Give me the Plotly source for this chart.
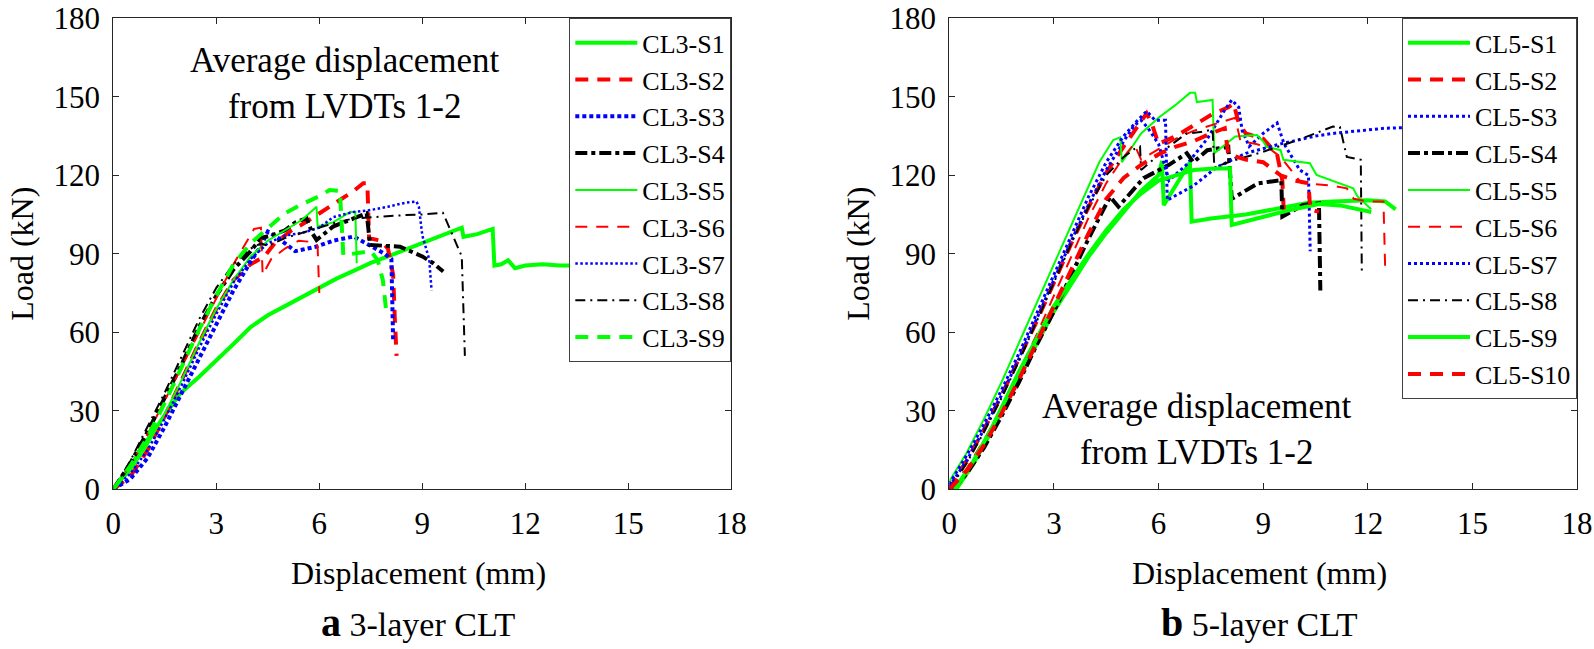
import plotly.graph_objects as go

# ---------------- Panel a: 3-layer CLT (displacement mm, load kN) ----------------
CL3_S1_X = [0, 0.5, 1, 1.5, 1.94, 2.5, 3, 3.5, 4, 4.5, 5, 5.5, 6, 6.5, 7, 7.5, 8, 8.5, 9, 9.5, 10, 10.15, 10.2, 10.6, 11.05, 11.1, 11.3, 11.5, 11.7, 12, 12.5, 13, 14]
CL3_S1_Y = [0, 9, 19, 28, 36.5, 43, 49, 55.5, 62, 66.5, 70, 73.5, 77, 80.5, 83.5, 86.5, 89, 91.5, 94, 96.5, 99, 100, 96.5, 97.5, 99.5, 85.5, 86, 87.5, 84.5, 85.5, 86, 85.5, 85.5]
CL3_S2_X = [0, 0.5, 1, 1.5, 2, 2.5, 3, 3.5, 4, 4.4, 4.7, 5.2, 5.6, 6, 6.6, 7, 7.28, 7.4, 7.45, 7.8, 8.0, 8.15, 8.2, 8.25]
CL3_S2_Y = [0, 5, 15, 28, 42, 56, 69, 80, 86, 89, 94, 99, 102, 105.5, 110.6, 114, 117, 117, 96, 95, 92, 82, 65, 51]
CL3_S3_X = [0, 0.5, 1, 1.5, 2, 2.5, 3, 3.5, 4, 4.3, 4.5, 4.8, 5.3, 5.9, 6.4, 7, 7.5, 7.9, 8.1, 8.15]
CL3_S3_Y = [0, 4, 12, 24, 37, 50, 63, 76, 87, 93, 98.5, 96, 91, 92.7, 95, 96.6, 93, 90, 88, 57]
CL3_S4_X = [0, 0.5, 1, 1.5, 2, 2.5, 3, 3.5, 4, 4.3, 4.6, 5.0, 5.3, 5.63, 5.8, 5.92, 6.4, 7, 7.38, 7.48, 8, 8.35, 9, 9.32, 9.61]
CL3_S4_Y = [0, 10, 22, 35, 48, 62, 74, 84, 91, 96, 97, 99, 102, 103.6, 97.8, 95.3, 100.4, 103.5, 105.5, 93.4, 93, 92.7, 89, 86.4, 83.2]
CL3_S5_X = [0, 0.5, 1, 1.5, 2, 2.5, 3, 3.5, 4, 4.5, 5, 5.5, 5.92, 5.95, 6.4, 6.9, 7.05, 7.09]
CL3_S5_Y = [0, 7, 17, 29, 42, 56, 69, 80, 89, 95, 99, 103, 108, 100.4, 102, 106, 106, 86.4]
CL3_S6_X = [0, 0.5, 1, 1.5, 2, 2.5, 3, 3.5, 3.9, 4.1, 4.3, 4.35, 4.6, 5, 5.4, 5.8, 5.95, 6.0]
CL3_S6_Y = [0, 9, 21, 34, 47, 60, 73, 86, 95, 99.5, 100, 82, 88, 92, 95, 94.5, 93, 75]
CL3_S7_X = [0, 0.5, 1, 1.5, 2, 2.5, 3, 3.5, 4, 4.5, 5, 5.5, 6, 6.4, 7, 7.4, 8, 8.5, 8.83, 8.9, 9.0, 9.2, 9.27]
CL3_S7_Y = [0, 6, 15, 27, 40, 54, 67, 79, 88, 94, 97, 98, 100, 104, 106, 106.5, 108, 109.5, 110, 108, 97, 88, 76]
CL3_S8_X = [0, 0.5, 1, 1.5, 2, 2.5, 3, 3.5, 4, 4.3, 4.5, 5, 5.5, 6, 6.5, 7, 7.5, 8, 8.5, 9, 9.3, 9.6, 10.15, 10.2, 10.24]
CL3_S8_Y = [0, 11, 24, 37, 51, 65, 77, 86, 92, 94, 93, 96, 98, 100, 102, 103.5, 104, 104.3, 104.8, 105, 105.3, 105.7, 89, 70, 51]
CL3_S9_X = [0, 0.5, 1, 1.5, 2, 2.5, 3, 3.5, 4, 4.5, 5, 5.5, 6, 6.3, 6.6, 6.7, 7.5, 7.7, 7.85, 7.95]
CL3_S9_Y = [0, 9, 20, 33, 47, 61, 74, 86, 94, 100, 105.5, 109, 112, 114.4, 114, 89.5, 91, 87.6, 80, 68]

# ---------------- Panel b: 5-layer CLT ----------------
CL5_S1_X = [0.2, 0.7, 1.2, 2, 3, 4, 4.5, 5, 5.5, 6, 6.1, 6.15, 6.5, 6.9, 6.95, 7.5, 8.5, 9.5, 10.3, 11, 12, 12.5, 12.8]
CL5_S1_Y = [0, 10, 22, 43, 68, 89, 98, 106, 114, 120, 125.5, 108.6, 116, 125, 102.3, 103.5, 105, 107.5, 109.5, 110, 110.5, 110, 107]
CL5_S2_X = [0, 0.5, 1, 1.5, 2, 2.5, 3, 3.5, 4, 4.5, 5, 5.4, 5.66, 5.8, 6.0, 6.5, 7, 7.5, 8.0, 8.15, 8.3, 8.5, 9, 9.4, 9.55, 9.6]
CL5_S2_Y = [0, 11, 23, 36, 50, 64, 79, 94, 108, 121, 131, 139, 143.7, 140, 132, 135, 139, 143, 146, 147.5, 140, 136, 134, 128, 118, 104]
CL5_S3_X = [0, 0.5, 1, 1.5, 2, 2.5, 3, 3.5, 4, 4.5, 5, 5.3, 5.5, 5.7, 6.0, 6.3, 6.8, 7.4, 7.9, 8.1, 8.3, 8.4, 8.6, 9.0, 9.4, 9.6, 10.05, 10.3, 10.35]
CL5_S3_Y = [1, 11, 23, 36, 50, 65, 80, 95, 109, 122, 133, 139, 141, 138, 132, 118, 124, 134, 145, 148.8, 146, 137, 131, 136, 140, 132, 122, 120, 91]
CL5_S4_X = [0.1, 0.5, 1, 1.5, 2, 2.5, 3, 3.5, 4, 4.5, 4.61, 4.85, 5.57, 6.3, 6.81, 7.0, 7.4, 8.0, 8.1, 8.85, 9.52, 9.55, 10.15, 10.6, 10.64]
CL5_S4_Y = [0, 6, 16, 28, 41, 55, 68, 82, 96, 109, 111.8, 108, 118.9, 124, 128.4, 125, 129.6, 130.9, 111, 116.9, 118.2, 104.2, 108.7, 109.3, 76]
CL5_S5_X = [0, 0.5, 1, 1.5, 2, 2.5, 3, 3.5, 3.9, 4.3, 4.7, 4.9, 4.95, 5.5, 6, 6.5, 6.9, 7.05, 7.1, 7.55, 7.6, 8.2, 8.82, 9.0, 9.1, 9.5, 9.58, 10.34, 10.53, 11.2, 11.58, 11.7, 12.0, 12.1]
CL5_S5_Y = [3, 14, 27, 41, 56, 71, 86, 101, 113, 125, 133.5, 134.5, 125, 136, 142, 147, 151.5, 151.5, 148, 148.8, 128.4, 134.8, 135.4, 133, 130.9, 129.6, 125.9, 124.6, 120.1, 116.9, 115, 112, 108, 107]
CL5_S6_X = [0, 0.5, 1, 1.5, 2, 2.5, 3, 3.5, 4, 4.5, 5, 5.3, 5.5, 6, 6.5, 7, 7.5, 8, 8.2, 8.35, 8.8, 9.2, 9.5, 9.8, 10.1, 10.6, 11, 11.4, 11.6, 12.0, 12.45, 12.5]
CL5_S6_Y = [0, 8, 19, 31, 45, 59, 74, 89, 104, 117, 127, 132, 126, 130, 134, 137, 139, 141, 142, 133, 132, 130, 127, 122, 117, 116.5, 116, 115, 111, 110, 110, 84]
CL5_S7_X = [0, 0.5, 1, 1.5, 2, 2.5, 3, 3.5, 4, 4.5, 5, 5.4, 5.66, 5.9, 6.2, 6.25, 7, 7.66, 8.5, 9.5, 10.5, 11, 12, 12.5, 14]
CL5_S7_Y = [2, 13, 25, 38, 52, 67, 82, 97, 112, 125, 135, 141, 144.5, 141, 141, 110.5, 116, 123, 128.4, 132, 135, 136, 137.5, 138, 138.5]
CL5_S8_X = [0, 0.5, 1, 1.5, 2, 2.5, 3, 3.5, 4, 4.5, 5, 5.3, 5.47, 5.5, 6.2, 6.8, 7.2, 7.55, 7.6, 8.0, 9.0, 10.0, 11.0, 11.2, 11.4, 11.8, 11.83]
CL5_S8_Y = [0, 10, 22, 35, 49, 64, 79, 94, 108, 120, 127, 130, 131, 122, 130, 136, 136.5, 137.5, 123, 125, 129, 133.5, 138.6, 138.5, 127, 125.9, 82]
CL5_S9_X = [0.15, 0.7, 1.2, 2, 3, 4, 4.5, 5, 5.5, 6, 6.5, 7, 7.5, 8.05, 8.1, 9, 9.7, 10.6, 11.2, 12.1]
CL5_S9_Y = [0, 11, 23, 45, 70, 90, 99, 107, 113, 118, 120, 122, 122.5, 122.7, 101, 104, 106.5, 109, 108.5, 106]
CL5_S10_X = [0, 0.5, 1, 1.5, 2, 2.5, 3, 3.5, 4, 4.5, 5, 5.5, 6, 6.5, 7, 7.5, 7.9, 8.0, 8.5, 9, 9.5, 9.9, 10.3, 10.35, 10.6]
CL5_S10_Y = [0, 7, 17, 29, 42, 56, 70, 84, 98, 111, 119, 124, 128, 131, 133, 136, 138, 128, 126, 125, 120, 118, 117, 107, 106]

CL3_NAMES = ["CL3-S1", "CL3-S2", "CL3-S3", "CL3-S4", "CL3-S5", "CL3-S6", "CL3-S7", "CL3-S8", "CL3-S9"]
CL5_NAMES = ["CL5-S1", "CL5-S2", "CL5-S3", "CL5-S4", "CL5-S5", "CL5-S6", "CL5-S7", "CL5-S8", "CL5-S9", "CL5-S10"]

X_TICKS = [0, 3, 6, 9, 12, 15, 18]
Y_TICKS = [0, 30, 60, 90, 120, 150, 180]

CL3_DATA = [(CL3_S1_X, CL3_S1_Y), (CL3_S2_X, CL3_S2_Y), (CL3_S3_X, CL3_S3_Y), (CL3_S4_X, CL3_S4_Y),
            (CL3_S5_X, CL3_S5_Y), (CL3_S6_X, CL3_S6_Y), (CL3_S7_X, CL3_S7_Y), (CL3_S8_X, CL3_S8_Y),
            (CL3_S9_X, CL3_S9_Y)]
CL5_DATA = [(CL5_S1_X, CL5_S1_Y), (CL5_S2_X, CL5_S2_Y), (CL5_S3_X, CL5_S3_Y), (CL5_S4_X, CL5_S4_Y),
            (CL5_S5_X, CL5_S5_Y), (CL5_S6_X, CL5_S6_Y), (CL5_S7_X, CL5_S7_Y), (CL5_S8_X, CL5_S8_Y),
            (CL5_S9_X, CL5_S9_Y), (CL5_S10_X, CL5_S10_Y)]

# ---------------- styles ----------------
GREEN, RED, BLUE, BLACK = "#00FF00", "#FF0000", "#0000FF", "#000000"
THICK, THIN = 4, 2
STY = {
    "g_thick_solid": dict(color=GREEN, width=THICK, dash="solid"),
    "r_thick_dash": dict(color=RED, width=THICK, dash="13px,9px"),
    "b_thick_dot": dict(color=BLUE, width=THICK, dash="4px,3px"),
    "b_mid_dot": dict(color=BLUE, width=3, dash="3px,3px"),
    "k_thick_dashdot": dict(color=BLACK, width=THICK, dash="12px,4px,4px,4px"),
    "g_thin_solid": dict(color=GREEN, width=THIN, dash="solid"),
    "r_thin_dash": dict(color=RED, width=THIN, dash="12px,9px"),
    "b_thin_dot": dict(color=BLUE, width=2.5, dash="2.5px,2.5px"),
    "k_thin_dashdot": dict(color=BLACK, width=THIN, dash="10px,5px,2px,5px"),
    "g_thick_dash": dict(color=GREEN, width=THICK, dash="13px,9px"),
}
CL3_STYLES = ["g_thick_solid", "r_thick_dash", "b_thick_dot", "k_thick_dashdot", "g_thin_solid",
              "r_thin_dash", "b_thin_dot", "k_thin_dashdot", "g_thick_dash"]
CL5_STYLES = ["g_thick_solid", "r_thick_dash", "b_mid_dot", "k_thick_dashdot", "g_thin_solid",
              "r_thin_dash", "b_mid_dot", "k_thin_dashdot", "g_thick_solid", "r_thick_dash"]

W, H = 1594, 649
FONT = "Liberation Serif, Times New Roman, serif"

def px(xp):
    return xp / W

def py(yp):
    return 1 - yp / H

fig = go.Figure()
for (xs, ys), name, st in zip(CL3_DATA, CL3_NAMES, CL3_STYLES):
    fig.add_trace(go.Scatter(x=xs, y=ys, name=name, mode="lines", line=STY[st],
                             xaxis="x", yaxis="y", legend="legend"))
for (xs, ys), name, st in zip(CL5_DATA, CL5_NAMES, CL5_STYLES):
    fig.add_trace(go.Scatter(x=xs, y=ys, name=name, mode="lines", line=STY[st],
                             xaxis="x2", yaxis="y2", legend="legend2"))

AX_LEFT = (113.3, 731.3)
AX_RIGHT = (949.3, 1577.0)
AX_TOP, AX_BOT = 18.3, 489.3

axis_common = dict(showline=True, linecolor="#262626", linewidth=1, mirror="ticks",
                   ticks="inside", ticklen=6, tickwidth=1, tickcolor="#262626",
                   showgrid=False, zeroline=False, automargin=False,
                   tickfont=dict(family=FONT, size=31, color="black"))

leg_common = dict(xanchor="right", yanchor="top", bgcolor="white", bordercolor="#404040",
                  borderwidth=1, font=dict(family=FONT, size=26, color="black"),
                  itemwidth=62, tracegroupgap=0)

fig.update_layout(
    width=W, height=H, margin=dict(l=0, r=0, t=0, b=0, autoexpand=False),
    paper_bgcolor="white", plot_bgcolor="white",
    font=dict(family=FONT, color="black"),
    xaxis=dict(domain=[px(AX_LEFT[0]), px(AX_LEFT[1])], range=[0, 18], tickvals=X_TICKS,
               anchor="y", ticklabelstandoff=6, **axis_common),
    yaxis=dict(domain=[py(AX_BOT), py(AX_TOP)], range=[0, 180], tickvals=Y_TICKS,
               anchor="x", ticklabelstandoff=6, **axis_common),
    xaxis2=dict(domain=[px(AX_RIGHT[0]), px(AX_RIGHT[1])], range=[0, 18], tickvals=X_TICKS,
                anchor="y2", ticklabelstandoff=6, **axis_common),
    yaxis2=dict(domain=[py(AX_BOT), py(AX_TOP)], range=[0, 180], tickvals=Y_TICKS,
                anchor="x2", ticklabelstandoff=6, **axis_common),
    legend=dict(x=px(AX_LEFT[1]), y=py(AX_TOP), **leg_common),
    legend2=dict(x=px(AX_RIGHT[1]), y=py(AX_TOP), **leg_common),
    showlegend=True,
)

ann = []
# in-plot notes
ann.append(dict(x=6.75, y=155, xref="x", yref="y", text="Average displacement<br>from LVDTs 1-2",
                xanchor="center", yanchor="middle",
                showarrow=False, font=dict(family=FONT, size=35, color="black")))
ann.append(dict(x=7.09, y=23, xref="x2", yref="y2", text="Average displacement<br>from LVDTs 1-2",
                xanchor="center", yanchor="middle",
                showarrow=False, font=dict(family=FONT, size=35, color="black")))
# axis titles and panel captions
for xl, xr, lab_x, cap in [(AX_LEFT[0], AX_LEFT[1], 22, "<b><span style='font-size:40px'>a</span></b> 3-layer CLT"),
                           (AX_RIGHT[0], AX_RIGHT[1], 858, "<b><span style='font-size:40px'>b</span></b> 5-layer CLT")]:
    cx = (xl + xr) / 2
    ann.append(dict(x=px(lab_x), y=py((AX_TOP + AX_BOT) / 2), xref="paper", yref="paper",
                    xanchor="center", yanchor="middle",
                    text="Load (kN)", textangle=-90, showarrow=False,
                    font=dict(family=FONT, size=32, color="black")))
    ann.append(dict(x=px(cx - 4), y=py(573), xref="paper", yref="paper",
                    xanchor="center", yanchor="middle",
                    text="Displacement (mm)", showarrow=False,
                    font=dict(family=FONT, size=32, color="black")))
    ann.append(dict(x=px(cx - 4), y=py(622), xref="paper", yref="paper",
                    xanchor="center", yanchor="middle",
                    text=cap, showarrow=False,
                    font=dict(family=FONT, size=34, color="black")))
fig.update_layout(annotations=ann)

fig.write_html("out.html", config={"displayModeBar": False},
               post_script="document.body.style.margin='0';document.body.style.overflow='hidden';")
